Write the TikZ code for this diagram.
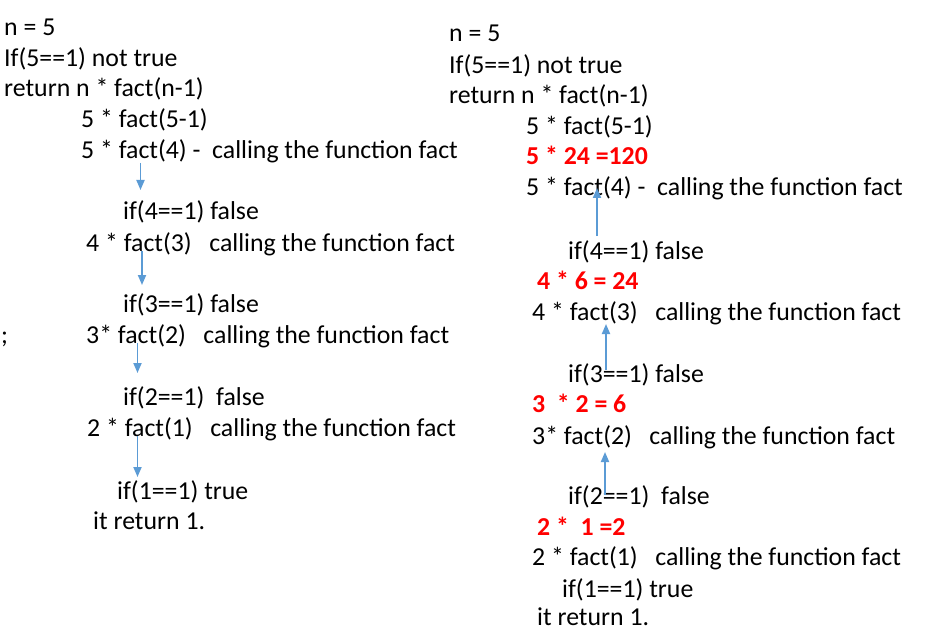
\documentclass[tikz,border=0pt]{standalone}
\usepackage{fontspec}
\setmainfont{Carlito}
\usetikzlibrary{arrows.meta}
\definecolor{arrblue}{RGB}{91,155,213}
\definecolor{resred}{RGB}{255,0,0}
\tikzset{
  txt/.style={anchor=base west, inner sep=0pt, yshift=-2pt, font=\fontsize{25.8}{31}\selectfont},
  res/.style={txt, text=resred, font=\fontsize{25.8}{31}\selectfont\bfseries},
  arr/.style={draw=arrblue, line width=1.8pt, -{Triangle[length=10pt,width=8pt]}}
}
\begin{document}
\begin{tikzpicture}[x=1pt,y=-1pt]
\useasboundingbox[fill=white] (0,0) rectangle (931,631);
% left column
\node[txt] (l1) at (4,34) {n = 5};
\node[txt] (l2) at (4,65) {If(5==1) not true};
\node[txt] (l3) at (4,95) {return n * fact(n-1)};
\node[txt] (l4) at (81,126) {5 * fact(5-1)};
\node[txt] (l5) at (81,157) {5 * fact(4) -~~calling the function fact};
\node[txt] (l6) at (123,217) {if(4==1) false};
\node[txt] (l7) at (86,249) {4 * fact(3)~~~calling the function fact};
\node[txt] (l8) at (123,310) {if(3==1) false};
\node[txt] (l9) at (86,341) {3* fact(2)~~~calling the function fact};
\node[txt] (semi) at (1,341) {;};
\node[txt] (l10) at (123,403) {if(2==1)~~false};
\node[txt] (l11) at (87,434) {2 * fact(1)~~~calling the function fact};
\node[txt] (l12) at (117,497) {if(1==1) true};
\node[txt] (l13) at (93,527) {it return 1.};
\coordinate (la1s) at (140.5,163);
\coordinate (la1e) at (140.5,190);
\coordinate (la2s) at (142,251);
\coordinate (la2e) at (142,285);
\coordinate (la3s) at (137.5,343);
\coordinate (la3e) at (137.5,373);
\coordinate (la4s) at (137.5,436);
\coordinate (la4e) at (137.5,477);
\draw[arr] (la1s) -- (la1e);
\draw[arr] (la2s) -- (la2e);
\draw[arr] (la3s) -- (la3e);
\draw[arr] (la4s) -- (la4e);
% right column
\node[txt] (r1) at (449,40) {n = 5};
\node[txt] (r2) at (449,72) {If(5==1) not true};
\node[txt] (r3) at (449,102) {return n * fact(n-1)};
\node[txt] (r4) at (526,133) {5 * fact(5-1)};
\node[res] (r5) at (526,163) {5 * 24 =120};
\node[txt] (r6) at (526,194) {5 * fact(4) -~~calling the function fact};
\node[txt] (r7) at (568,257) {if(4==1) false};
\node[res] (r8) at (537,287) {4 * 6 = 24};
\node[txt] (r9) at (532,318) {4 * fact(3)~~~calling the function fact};
\node[txt] (r10) at (568,380) {if(3==1) false};
\node[res] (r11) at (532,410) {3~~* 2 = 6};
\node[txt] (r12) at (532,442) {3* fact(2)~~~calling the function fact};
\node[txt] (r13) at (568,502) {if(2==1)~~false};
\node[res] (r14) at (537,533) {2 *~~1 =2};
\node[txt] (r15) at (532,563) {2 * fact(1)~~~calling the function fact};
\node[txt] (r16) at (562,595) {if(1==1) true};
\node[txt, yshift=2pt, text depth=0pt] (r17) at (537,625) {it return 1.};
\coordinate (ra1s) at (597,236);
\coordinate (ra1e) at (597,188);
\coordinate (ra2s) at (606,370);
\coordinate (ra2e) at (606,324);
\coordinate (ra3s) at (605,495);
\coordinate (ra3e) at (605,452);
\draw[arr] (ra1s) -- (ra1e);
\draw[arr] (ra2s) -- (ra2e);
\draw[arr] (ra3s) -- (ra3e);
\end{tikzpicture}
\end{document}
